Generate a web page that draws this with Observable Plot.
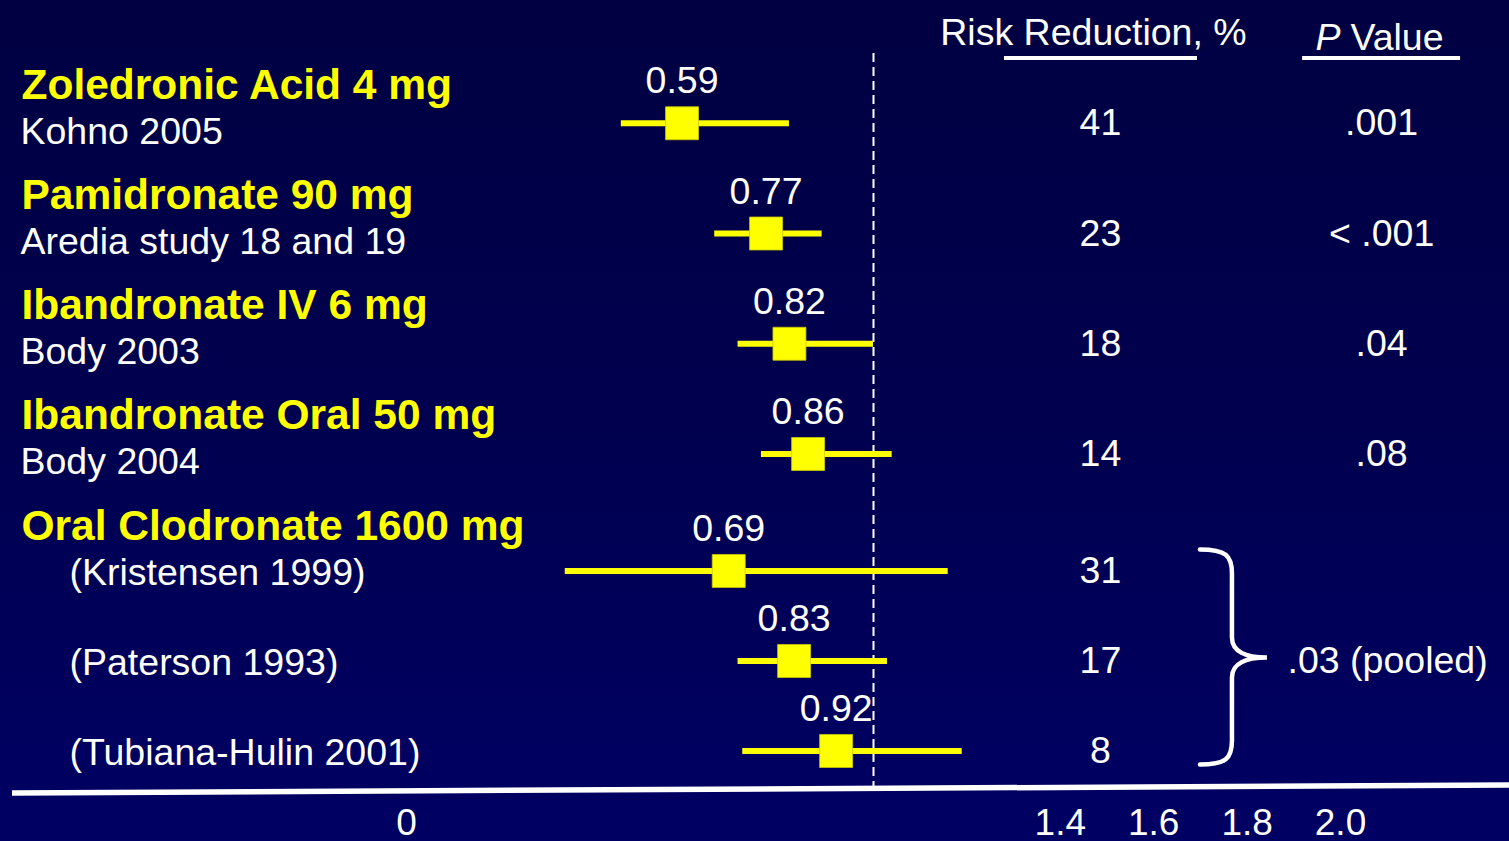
<!DOCTYPE html>
<html>
<head>
<meta charset="utf-8">
<script src="https://cdn.jsdelivr.net/npm/d3@7"></script>
<script src="https://cdn.jsdelivr.net/npm/@observablehq/plot@0.6"></script>
<style>
  html, body { margin: 0; padding: 0; width: 1509px; height: 841px; overflow: hidden;
    background: linear-gradient(to bottom, #000042 0%, #00004f 50%, #000064 100%); }
  #chart svg { display: block; }
</style>
</head>
<body>
<div id="chart"></div>
<script>
// ---------------- data ----------------
const groupNames = [
  "Zoledronic Acid 4 mg",
  "Pamidronate 90 mg",
  "Ibandronate IV 6 mg",
  "Ibandronate Oral 50 mg",
  "Oral Clodronate 1600 mg"
];
const studyNames = [
  "Kohno 2005",
  "Aredia study 18 and 19",
  "Body 2003",
  "Body 2004",
  "(Kristensen 1999)",
  "(Paterson 1993)",
  "(Tubiana-Hulin 2001)"
];
const studyGroup    = [0, 1, 2, 3, 4, 4, 4];
const hazardRatio   = [0.59, 0.77, 0.82, 0.86, 0.69, 0.83, 0.92];
const ciLower       = [0.46, 0.66, 0.71, 0.76, 0.34, 0.71, 0.72];
const ciUpper       = [0.82, 0.89, 1.00, 1.04, 1.16, 1.03, 1.19];
const riskReduction = [41, 23, 18, 14, 31, 17, 8];
const groupPValues  = [".001", "< .001", ".04", ".08", ".03 (pooled)"];
const xTicks        = [0, 1.4, 1.6, 1.8, 2.0];
const headerRR      = "Risk Reduction, %";
const headerP       = "P";
const headerValue   = "Value";

// ---------------- layout (line units) ----------------
const GROUP_GAP = 0.45;
const headers = [], rows = [], pRows = [];
let s = 0;
groupNames.forEach((name, gi) => {
  headers.push({name, s});
  const idx = studyGroup.map((g, i) => g === gi ? i : -1).filter(i => i >= 0);
  const multi = idx.length > 1;
  const ms = [];
  idx.forEach((i, k) => {
    const ss = s + 1 + 2 * k;
    const m = ss - (multi ? 0.3 : 0.45);
    ms.push(m);
    rows.push({study: studyNames[i], s: ss, m, hr: hazardRatio[i], lo: ciLower[i], hi: ciUpper[i],
               rr: riskReduction[i], multi});
  });
  pRows.push({p: groupPValues[gi], m: d3.mean(ms), multi});
  s = s + 1 + 2 * (idx.length - 1) + 1 + GROUP_GAP;
});
const singleRows = rows.filter(r => !r.multi);
const pooledRows = rows.filter(r => r.multi);
const colRR = 1.486, colP = 2.088;
const FONT = "'Liberation Sans', Arial, Helvetica, sans-serif";
const YELLOW = "#ffff00";

// decorations drawn with the plot's scales (axis rule, header underlines, brace)
function decorations(index, scales, values, dims) {
  const {x, y} = scales;
  const ns = "http://www.w3.org/2000/svg";
  const g = document.createElementNS(ns, "g");
  const add = (d, w) => {
    const p = document.createElementNS(ns, "path");
    p.setAttribute("d", d);
    p.setAttribute("fill", "none");
    p.setAttribute("stroke", "white");
    p.setAttribute("stroke-width", w);
    g.appendChild(p);
    return p;
  };
  // bottom axis rule (slightly tilted as in the slide)
  const bottom = dims.height - dims.marginBottom;
  add(`M${dims.marginLeft},${bottom + 4}L${dims.width - dims.marginRight},${bottom - 4}`, 5.5);
  // header underlines
  const yU = y(-1.18) + 13;
  add(`M${x(colRR) - 96},${yU}H${x(colRR) + 97}`, 4);
  add(`M${x(colP) - 79},${yU}H${x(colP) + 79}`, 4);
  // brace for pooled group
  const top = y(pooledRows[0].m) - 21;
  const bot = y(pooledRows[pooledRows.length - 1].m) + 14;
  const mid = y(pRows.find(p => p.multi).m) - 3;
  const x0 = x(colRR) + 100, xs = x0 + 32, xt = x0 + 67;
  const b = add(
    `M${x0},${top}C${x0 + 26},${top} ${xs},${top + 6} ${xs},${top + 24}` +
    `L${xs},${mid - 20}C${xs},${mid - 6} ${xs + 14},${mid} ${xt},${mid}` +
    `C${xs + 14},${mid} ${xs},${mid + 6} ${xs},${mid + 20}` +
    `L${xs},${bot - 24}C${xs},${bot - 6} ${x0 + 26},${bot} ${x0},${bot}`, 4.5);
  b.setAttribute("stroke-linecap", "round");
  return g;
}

const textStyle = {fill: "white", fontSize: 37.5, fontFamily: FONT};

const chart = Plot.plot({
  width: 1509,
  height: 841,
  marginLeft: 12,
  marginRight: 0,
  marginTop: 53,
  marginBottom: 52,
  style: {background: "transparent", color: "white", fontFamily: FONT, fontSize: "37px", overflow: "visible"},
  x: {domain: [-0.8437, 2.3619], ticks: xTicks, tickSize: 0, tickPadding: 19, label: null,
      tickFormat: d => d === 0 ? "0" : d3.format(".1f")(d)},
  y: {type: "linear", domain: [0, 1], range: [98, 143], axis: null},
  marks: [
    // reference line at HR = 1
    Plot.ruleX([1], {stroke: "white", strokeWidth: 2, strokeDasharray: "9,5"}),
    // confidence intervals and point estimates
    Plot.ruleY(rows, {y: "m", x1: "lo", x2: "hi", stroke: YELLOW, strokeWidth: 6}),
    Plot.dot(rows, {x: "hr", y: "m", symbol: "square", r: 18.6, fill: YELLOW, stroke: "#c8c800", strokeWidth: 0.8}),
    Plot.text(rows, {x: "hr", y: "m", text: d => d.hr.toFixed(2), dy: -30, lineAnchor: "bottom", ...textStyle}),
    // left labels
    Plot.text(headers, {y: "s", text: "name", frameAnchor: "left", dx: 9, textAnchor: "start",
      lineAnchor: "bottom", fill: YELLOW, fontWeight: "bold", fontSize: 42.5, fontFamily: FONT}),
    Plot.text(singleRows, {y: "s", text: "study", frameAnchor: "left", dx: 8,
      textAnchor: "start", lineAnchor: "bottom", ...textStyle}),
    Plot.text(pooledRows, {y: "s", text: "study", frameAnchor: "left", dx: 57,
      textAnchor: "start", lineAnchor: "bottom", ...textStyle}),
    // right columns
    Plot.text([headerRR], {x: colRR, y: -1.18, text: d => d, dx: -7, lineAnchor: "bottom", ...textStyle}),
    Plot.text([headerP], {x: colP, y: -1.07, text: d => d, dx: -66, textAnchor: "start", lineAnchor: "bottom",
      fontStyle: "italic", ...textStyle}),
    Plot.text([headerValue], {x: colP, y: -1.07, text: d => d, dx: 62, textAnchor: "end", lineAnchor: "bottom",
      ...textStyle}),
    Plot.text(rows, {x: colRR, y: "m", text: d => String(d.rr), lineAnchor: "middle", ...textStyle}),
    Plot.text(pRows.filter(p => !p.multi), {x: colP, y: "m", text: "p", lineAnchor: "middle", ...textStyle}),
    Plot.text(pRows.filter(p => p.multi), {x: colP, y: "m", text: "p", dx: 6, lineAnchor: "middle", ...textStyle}),
    decorations
  ]
});
document.getElementById("chart").appendChild(chart);
</script>
</body>
</html>
